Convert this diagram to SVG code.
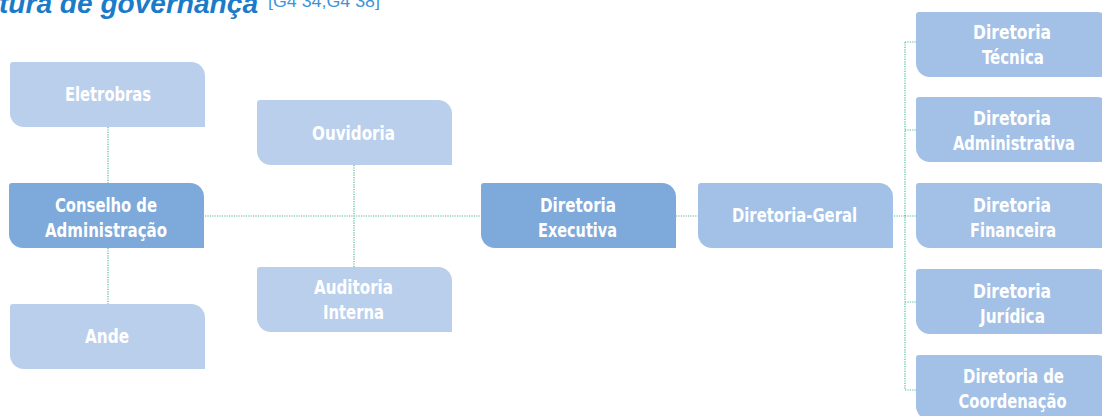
<svg xmlns="http://www.w3.org/2000/svg" width="1102" height="416" viewBox="0 0 1102 416">
<style>
.light{fill:#BACFEC}
.mid{fill:#A3C1E6}
.dark{fill:#7DAADB}
.lbl{font-family:"DejaVu Sans Condensed","DejaVu Sans",sans-serif;font-stretch:condensed;font-weight:bold;font-size:19.5px;fill:#FFFFFF;text-anchor:middle}
.conn{fill:none;stroke:#52B89C;stroke-width:1.2;stroke-dasharray:1.2 1.2}
.title{font-family:"Liberation Sans",Arial,sans-serif;font-style:italic;font-weight:bold;font-size:28px;fill:#1A7BC9}
.ref{font-family:"Liberation Sans",Arial,sans-serif;font-size:16px;fill:#3D93D8}
</style>
<defs>
<path id="box" d="M3,0 H181 A14,14 0 0 1 195,14 V65 H14 A14,14 0 0 1 0,51 V3 A3,3 0 0 1 3,0 Z"/>
</defs>
<text class="title" x="-1" y="13" textLength="259" lengthAdjust="spacingAndGlyphs">tura de governança</text>
<text class="ref" x="268" y="7" textLength="112" lengthAdjust="spacingAndGlyphs">[G4 34,G4 38]</text>
<g id="connectors">
<path class="conn" d="M108,127 V183 M108,248 V304"/>
<path class="conn" d="M205,216 H481 M354,165 V267"/>
<path class="conn" d="M676,216 H698 M894,216 H905"/>
<path class="conn" d="M905,42 V390 M905,42 H916 M905,130 H916 M905,216 H916 M905,302 H916 M905,390 H916"/>
</g>
<g id="eletrobras"><use href="#box" class="light" x="10" y="62"/><text class="lbl" x="108" y="101" textLength="86" lengthAdjust="spacingAndGlyphs">Eletrobras</text></g>
<g id="conselho"><use href="#box" class="dark" x="9" y="183"/><text class="lbl" x="106" y="212" textLength="102" lengthAdjust="spacingAndGlyphs">Conselho de</text><text class="lbl" x="106" y="237" textLength="122" lengthAdjust="spacingAndGlyphs">Administração</text></g>
<g id="ande"><use href="#box" class="light" x="10" y="304"/><text class="lbl" x="107" y="343" textLength="44" lengthAdjust="spacingAndGlyphs">Ande</text></g>
<g id="ouvidoria"><use href="#box" class="light" x="257" y="100"/><text class="lbl" x="353.5" y="140" textLength="83" lengthAdjust="spacingAndGlyphs">Ouvidoria</text></g>
<g id="auditoria"><use href="#box" class="light" x="257" y="267"/><text class="lbl" x="353.5" y="294" textLength="79" lengthAdjust="spacingAndGlyphs">Auditoria</text><text class="lbl" x="353.5" y="319" textLength="61" lengthAdjust="spacingAndGlyphs">Interna</text></g>
<g id="executiva"><use href="#box" class="dark" x="481" y="183"/><text class="lbl" x="578" y="212" textLength="76" lengthAdjust="spacingAndGlyphs">Diretoria</text><text class="lbl" x="577.5" y="237" textLength="79" lengthAdjust="spacingAndGlyphs">Executiva</text></g>
<g id="geral"><use href="#box" class="mid" x="698" y="183"/><text class="lbl" x="794.5" y="222" textLength="125" lengthAdjust="spacingAndGlyphs">Diretoria-Geral</text></g>
<g id="tecnica"><use href="#box" class="mid" x="916" y="12"/><text class="lbl" x="1012" y="39" textLength="78" lengthAdjust="spacingAndGlyphs">Diretoria</text><text class="lbl" x="1013" y="64" textLength="62" lengthAdjust="spacingAndGlyphs">Técnica</text></g>
<g id="administrativa"><use href="#box" class="mid" x="916" y="97"/><text class="lbl" x="1012" y="125" textLength="78" lengthAdjust="spacingAndGlyphs">Diretoria</text><text class="lbl" x="1014" y="150" textLength="122" lengthAdjust="spacingAndGlyphs">Administrativa</text></g>
<g id="financeira"><use href="#box" class="mid" x="916" y="183"/><text class="lbl" x="1012" y="212" textLength="78" lengthAdjust="spacingAndGlyphs">Diretoria</text><text class="lbl" x="1013" y="237" textLength="86" lengthAdjust="spacingAndGlyphs">Financeira</text></g>
<g id="juridica"><use href="#box" class="mid" x="916" y="269"/><text class="lbl" x="1012" y="298" textLength="78" lengthAdjust="spacingAndGlyphs">Diretoria</text><text class="lbl" x="1012.5" y="323" textLength="65" lengthAdjust="spacingAndGlyphs">Jurídica</text></g>
<g id="coordenacao"><use href="#box" class="mid" x="916" y="355"/><text class="lbl" x="1013.5" y="383" textLength="101" lengthAdjust="spacingAndGlyphs">Diretoria de</text><text class="lbl" x="1012.5" y="408" textLength="108" lengthAdjust="spacingAndGlyphs">Coordenação</text></g>
</svg>
